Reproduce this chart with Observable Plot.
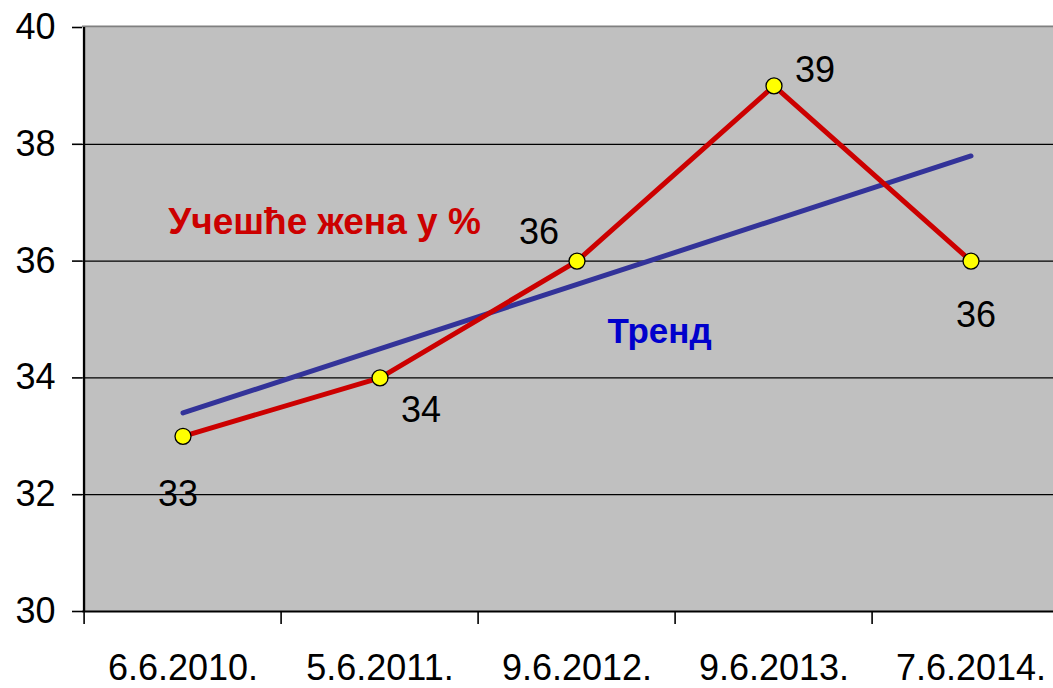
<!DOCTYPE html>
<html>
<head>
<meta charset="utf-8">
<script src="https://cdn.jsdelivr.net/npm/d3@7"></script>
<script src="https://cdn.jsdelivr.net/npm/@observablehq/plot@0.6"></script>
<style>
  html, body { margin: 0; padding: 0; background: white; overflow: hidden; }
  #chart svg { display: block; }
</style>
</head>
<body>
<div id="chart"></div>
<script>
const dates = ["6.6.2010.", "5.6.2011.", "9.6.2012.", "9.6.2013.", "7.6.2014."];
const values = [33, 34, 36, 39, 36];
const trendDates = ["6.6.2010.", "7.6.2014."];
const trendValues = [33.4, 37.8];
const yTicks = [30, 32, 34, 36, 38, 40];
const seriesLabel = "Учешће жена у %";
const trendLabel = "Тренд";

// label offsets (px) for each data value, as placed in the reference
const labelOffsets = [[-5, 58], [41, 33], [-38, -29], [41, -15], [5, 54]];

const data = dates.map((d, i) => ({date: d, value: values[i]}));
const trend = trendDates.map((d, i) => ({date: d, value: trendValues[i]}));

const W = 1053, H = 688;
const mL = 82, mR = -18, mT = 27, mB = 77;
const bw = (W - mR - mL) / dates.length;
const font = "Liberation Sans, Arial, sans-serif";

const chart = Plot.plot({
  width: W,
  height: H,
  marginLeft: mL,
  marginRight: mR,
  marginTop: mT,
  marginBottom: mB,
  style: {fontFamily: font, fontSize: "36px", color: "black", background: "white"},
  x: {type: "band", domain: dates, padding: 0, label: null},
  y: {domain: [30, 40], label: null},
  marks: [
    Plot.frame({fill: "#c0c0c0", stroke: null}),
    Plot.ruleY(yTicks.filter(v => v > 30 && v < 40), {stroke: "black", strokeWidth: 1.3}),
    Plot.ruleY([40], {stroke: "#808080", strokeWidth: 2, dy: -1}),
    Plot.ruleY([30], {stroke: "black", strokeWidth: 2.2}),
    Plot.ruleX([dates[0]], {x: d => d, dx: -bw / 2, stroke: "black", strokeWidth: 2.2}),
    Plot.axisY({ticks: yTicks, tickSize: 10, tickPadding: 17, stroke: "black", strokeWidth: 1.6, fontSize: 36, label: null}),
    Plot.axisX({tickSize: 0, tickPadding: 43, fontSize: 36, label: null}),
    Plot.ruleX(dates, {x: d => d, dx: -bw / 2, y1: 30, y2: 30, insetBottom: -13, stroke: "black", strokeWidth: 1.6}),
    Plot.line(trend, {x: "date", y: "value", stroke: "#333399", strokeWidth: 5}),
    Plot.line(data, {x: "date", y: "value", stroke: "#cc0000", strokeWidth: 5}),
    Plot.dot(data, {x: "date", y: "value", r: 8, fill: "#ffff00", stroke: "black", strokeWidth: 1.3}),
    ...data.map((d, i) => Plot.text([d], {
      x: "date", y: "value", text: v => String(v.value),
      dx: labelOffsets[i][0], dy: labelOffsets[i][1],
      fontSize: 36, fill: "black"
    })),
    Plot.text([seriesLabel], {frameAnchor: "top-left", dx: 324 - mL, dy: 207 - mT, text: d => d,
      textAnchor: "middle", fontSize: 37, fontWeight: "bold", fill: "#cc0000"}),
    Plot.text([trendLabel], {frameAnchor: "top-left", dx: 659 - mL, dy: 318 - mT, text: d => d,
      textAnchor: "middle", fontSize: 35, fontWeight: "bold", fill: "#0000cc"})
  ]
});
document.getElementById("chart").appendChild(chart);
</script>
</body>
</html>
